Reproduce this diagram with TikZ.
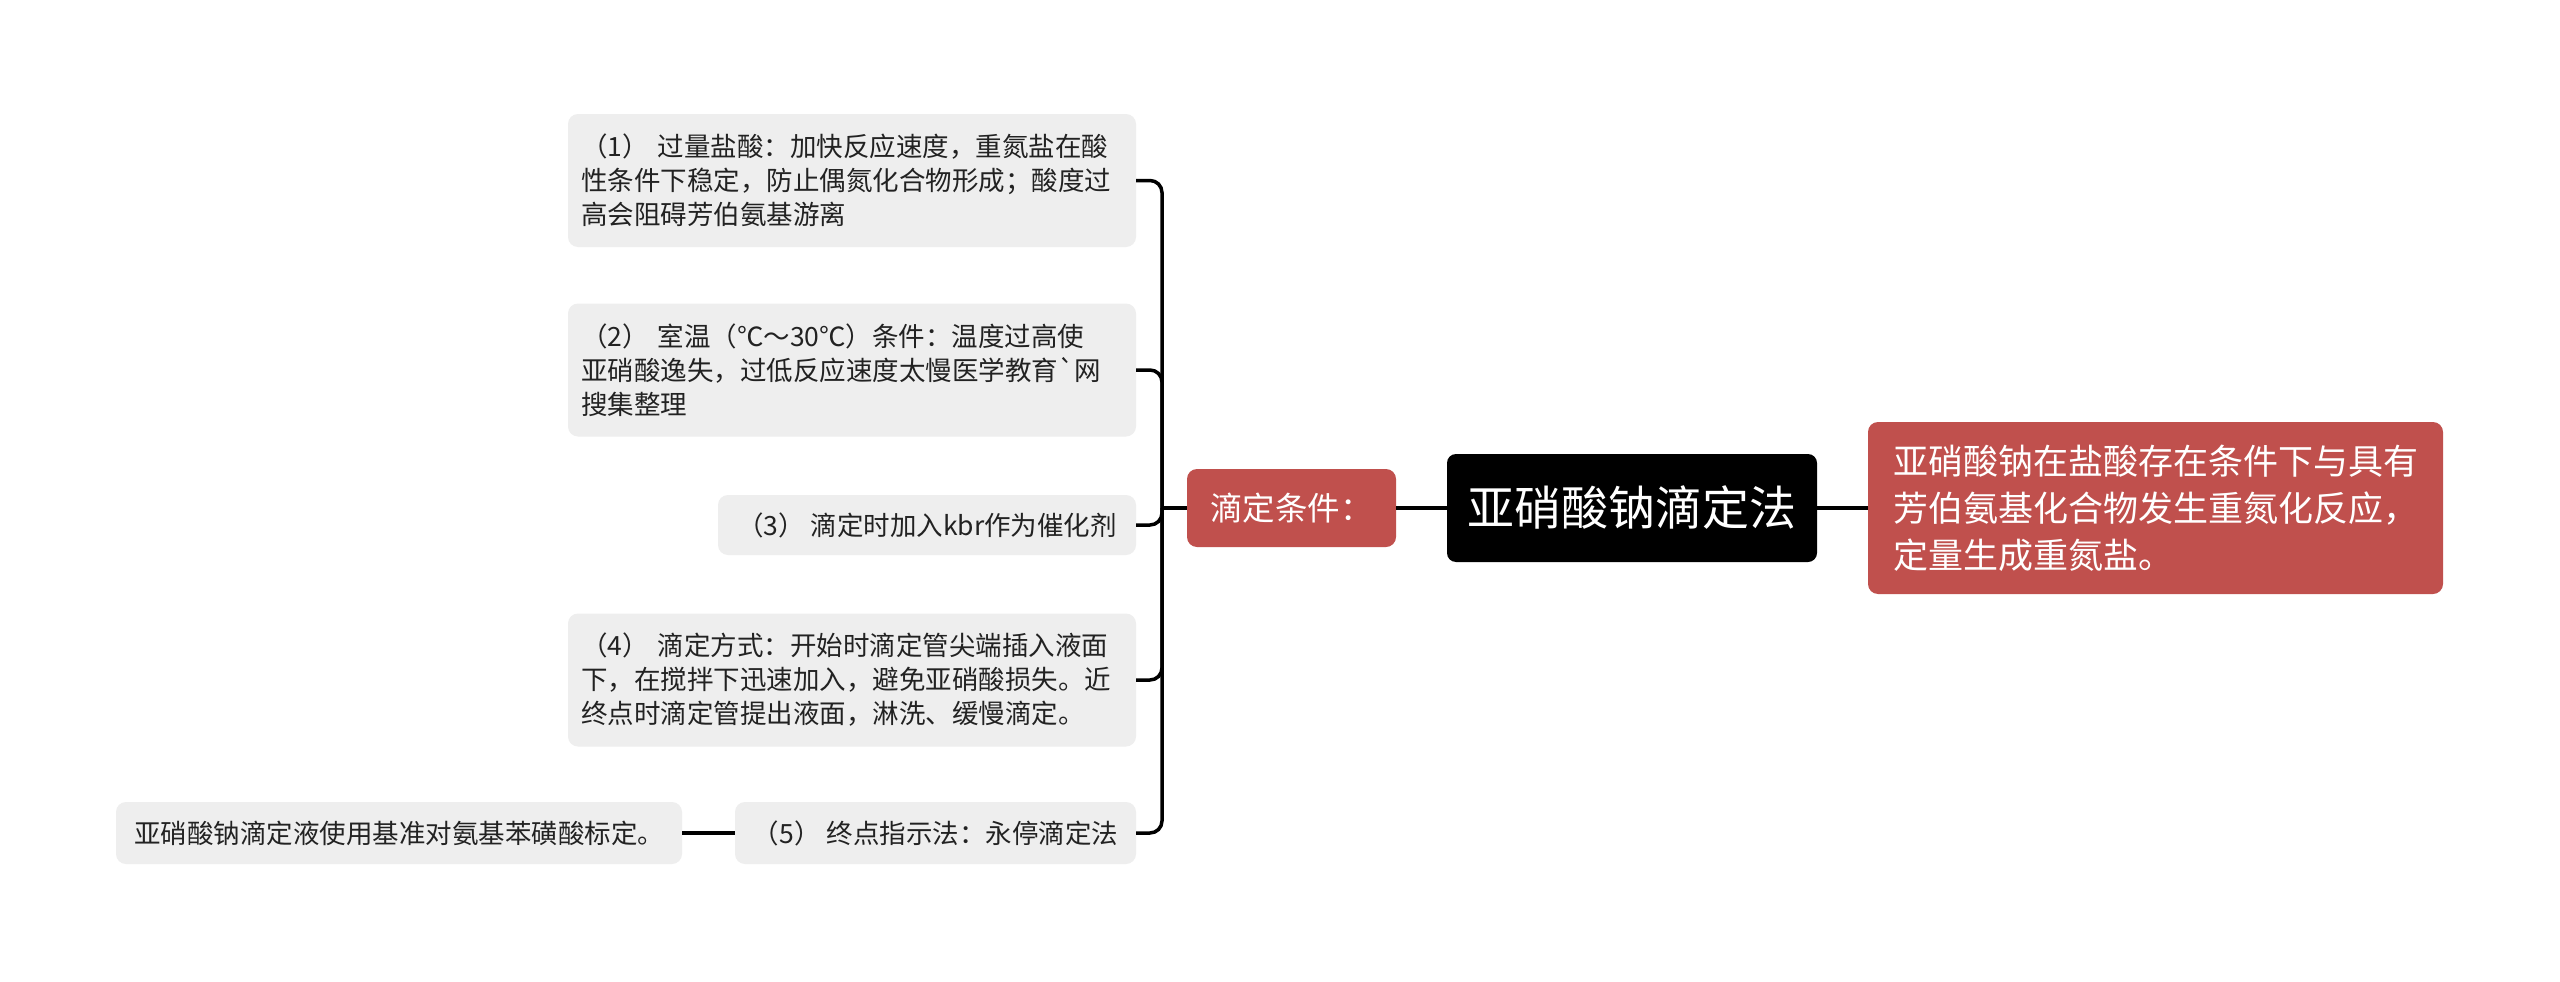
\documentclass[tikz,border=0pt]{standalone}
\usepackage{fontspec}
\newfontfamily\cjk{Noto Sans CJK SC}
\usetikzlibrary{positioning}
\definecolor{greybox}{HTML}{EEEEEE}
\definecolor{redbox}{HTML}{C0504D}
\definecolor{txt}{HTML}{222222}
\tikzset{
  leafbox/.style={fill=greybox, rounded corners=10pt, align=left, text=txt,
    font=\cjk\fontsize{26.5}{34}\selectfont, inner sep=0pt},
  widebox/.style={leafbox, text width=542pt, inner xsep=13pt, minimum width=568pt, minimum height=133pt},
  rednode/.style={fill=redbox, rounded corners=10pt, align=left, text=white, inner sep=0pt},
  rootbox/.style={fill=black, rounded corners=9pt, text=white, inner sep=0pt,
    font=\cjk\fontsize{47}{56}\selectfont},
  conn/.style={draw=black, line width=3.5pt},
}
\begin{document}
\begin{tikzpicture}[x=1pt,y=-1pt]
\fill[white] (0,0) rectangle (2560,982);
\useasboundingbox (0,0) rectangle (2560,982);

\node[rootbox, minimum width=370pt, minimum height=108pt] (root) at (1632,508) {亚硝酸钠滴定法};
\node[rednode, minimum width=209pt, minimum height=78pt, font=\cjk\fontsize{32.5}{38}\selectfont] (cond) at (1291.5,508) {滴定条件：};
\node[rednode, minimum width=575pt, minimum height=172pt, font=\cjk\fontsize{35}{47}\selectfont] (desc) at (2155.5,508)
  {亚硝酸钠在盐酸存在条件下与具有\\芳伯氨基化合物发生重氮化反应，\\定量生成重氮盐。};

\node[widebox] (b1) at (852,180.5)
  {（1） 过量盐酸：加快反应速度，重氮盐在酸\\性条件下稳定，防止偶氮化合物形成；酸度过\\高会阻碍芳伯氨基游离};
\node[widebox] (b2) at (852,370)
  {（2） 室温（℃～30℃）条件：温度过高使\\亚硝酸逸失，过低反应速度太慢医学教育`网\\搜集整理};
\node[leafbox, minimum width=418pt, minimum height=60pt] (b3) at (927,525)
  {（3） 滴定时加入kbr作为催化剂};
\node[widebox] (b4) at (852,680)
  {（4） 滴定方式：开始时滴定管尖端插入液面\\下，在搅拌下迅速加入，避免亚硝酸损失。近\\终点时滴定管提出液面，淋洗、缓慢滴定。};
\node[leafbox, minimum width=401pt, minimum height=62pt] (b5) at (935.5,833)
  {（5） 终点指示法：永停滴定法};
\node[leafbox, minimum width=566pt, minimum height=62pt] (leaf) at (399,833)
  {亚硝酸钠滴定液使用基准对氨基苯磺酸标定。};

\coordinate (trunk) at (1162,508);

\draw[conn] (cond.east) -- (root.west);
\draw[conn] (root.east) -- (desc.west);
\draw[conn] (trunk) -- (cond.west);
\foreach \b in {b1,b2,b3,b4,b5}{
  \draw[conn, rounded corners=12pt] (\b.east) -| (trunk);
}
\draw[conn] (leaf.east) -- (b5.west);
\end{tikzpicture}
\end{document}
